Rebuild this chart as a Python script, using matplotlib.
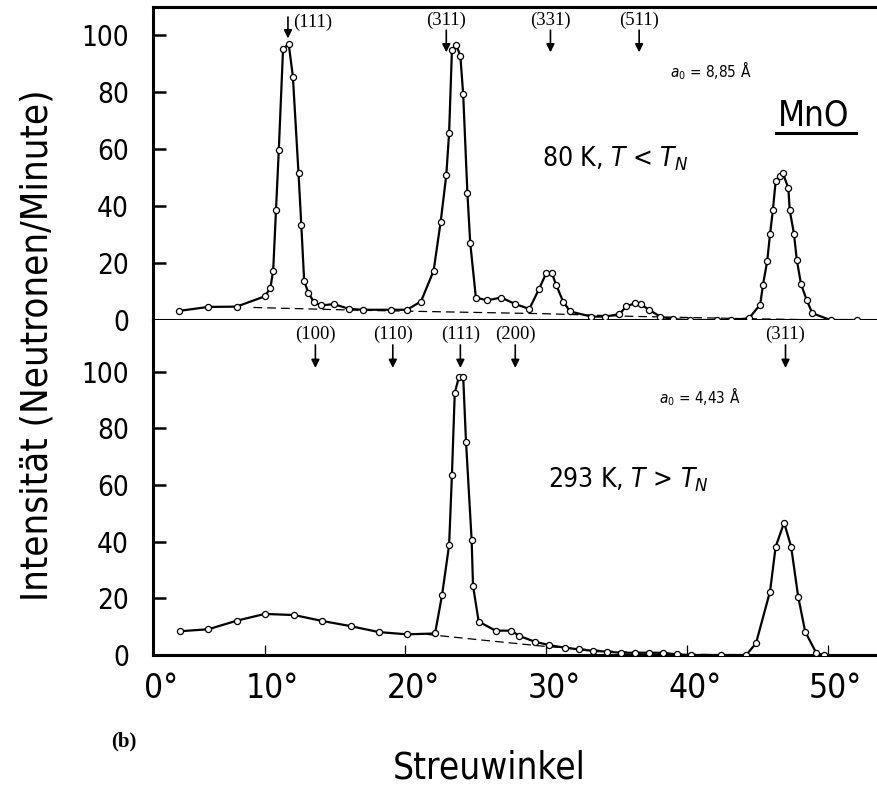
import matplotlib
matplotlib.use("Agg")
import matplotlib.pyplot as plt
import matplotlib.transforms as mtransforms

# Streuwinkel (2 theta, Grad) und Intensitaet (Neutronen/Minute)
# 80 K, T < T_N  (a0 = 8,85 A)
top_x = [3.9, 6.0, 8.0, 10.0, 10.4, 10.6, 10.8, 11.0, 11.3, 11.7, 12.0, 12.4,
         12.6, 12.8, 13.1, 13.5, 14.0, 14.9, 16.0, 17.0, 19.0, 20.1, 21.1, 22.0,
         22.5, 22.9, 23.1, 23.3, 23.6, 23.9, 24.1, 24.4, 24.6, 25.0, 25.8, 26.8,
         27.8, 28.8, 29.5, 30.0, 30.4, 30.7, 31.2, 31.7, 33.2, 34.2, 35.2, 35.7,
         36.3, 36.7, 37.3, 38.1, 39.0, 40.2, 42.1, 43.1, 44.4, 45.2, 45.4, 45.7,
         45.9, 46.1, 46.3, 46.6, 46.8, 47.2, 47.3, 47.6, 47.8, 48.1, 48.5, 48.9,
         50.2, 52.1]
top_y = [3.2, 4.6, 4.7, 8.3, 11.2, 17.3, 38.5, 59.7, 95.0, 97.1, 85.5, 51.6,
         33.3, 13.8, 9.5, 6.3, 5.1, 5.6, 3.9, 3.6, 3.6, 3.6, 6.5, 17.3,
         34.5, 50.9, 65.7, 94.7, 96.7, 92.7, 79.2, 44.5, 27.1, 7.9, 6.9, 7.9,
         5.6, 3.9, 11.0, 16.5, 16.5, 12.4, 6.5, 3.0, 1.2, 1.2, 2.1, 4.8,
         5.9, 5.6, 3.6, 1.2, 0.3, 0.0, 0.0, 0.0, 0.6, 5.4, 12.4, 20.7,
         30.1, 38.5, 48.8, 50.6, 51.8, 46.3, 38.5, 30.3, 21.2, 12.6, 7.1, 2.4,
         0.0, 0.0]
top_base_x = [9.2, 17.0, 30.0, 36.0, 44.0, 50.0]
top_base_y = [4.4, 3.4, 2.2, 1.3, 0.5, 0.0]

# 293 K, T > T_N  (a0 = 4,43 A)
bot_x = [4.0, 6.0, 8.0, 10.0, 12.1, 14.1, 16.1, 18.1, 20.1, 22.1, 22.6, 23.1,
         23.3, 23.5, 23.8, 24.1, 24.3, 24.7, 24.8, 25.2, 26.4, 27.5, 28.1, 29.2,
         30.2, 31.3, 32.3, 33.3, 34.3, 35.3, 36.3, 37.3, 38.3, 39.3, 40.3, 42.4,
         44.2, 44.9, 45.9, 46.3, 46.9, 47.4, 47.9, 48.4, 49.2, 49.7]
bot_y = [8.4, 9.1, 12.1, 14.5, 14.1, 12.0, 10.2, 8.1, 7.3, 7.6, 21.2, 38.8,
         63.5, 92.4, 98.2, 98.2, 75.3, 40.6, 24.4, 11.8, 8.6, 8.6, 6.7, 4.7,
         3.5, 2.6, 2.0, 1.5, 1.2, 0.8, 0.8, 0.8, 0.8, 0.2, 0.0, 0.0,
         0.0, 4.1, 22.4, 38.2, 46.7, 38.2, 20.6, 8.2, 0.6, 0.0]
bot_base_x = [21.5, 25.0, 30.0, 35.0, 40.0, 44.0, 50.0]
bot_base_y = [7.3, 5.5, 3.0, 1.2, 0.3, 0.0, 0.0]

# Reflexe (hkl) und ihre Lage
top_hkl = ["(111)", "(311)", "(331)", "(511)"]
top_hkl_x = [11.65, 22.9, 30.3, 36.6]
bot_hkl = ["(100)", "(110)", "(111)", "(200)", "(311)"]
bot_hkl_x = [13.6, 19.1, 23.9, 27.8, 47.0]

y_ticks = [0, 20, 40, 60, 80, 100]
x_ticks = [2.04, 10, 20, 30, 40, 50]   # linker Achsenrand ist im Original mit 0° beschriftet
x_labels = ["0°", "10°", "20°", "30°", "40°", "50°"]

SERIF = ["Liberation Serif", "DejaVu Serif"]

plt.rcParams.update({
    "font.family": "DejaVu Sans",
    "font.stretch": "condensed",      # schmale Normschrift wie im Original
    "mathtext.fontset": "custom",
    "mathtext.rm": "DejaVu Sans",
    "mathtext.it": "DejaVu Sans:italic",
})

fig = plt.figure(figsize=(8.77, 7.89), dpi=100)
ax_top = fig.add_axes([0.1741, 0.5944, 0.8259, 0.3963])
ax_bot = fig.add_axes([0.1741, 0.1698, 0.8259, 0.4246])

XLIM = (2.04, 53.5)


def style(ax, ymax):
    ax.set_xlim(*XLIM)
    ax.set_ylim(0, ymax)
    ax.spines["right"].set_visible(False)
    for s in ("left", "top", "bottom"):
        ax.spines[s].set_linewidth(2.2)
    ax.set_yticks(y_ticks)
    ax.tick_params(axis="y", direction="in", length=9, width=1.8, pad=17,
                   labelsize=20)


def curve(ax, xs, ys, bx, by):
    ax.plot(bx, by, color="black", lw=0.9, ls=(0, (7, 4)), zorder=2)
    ax.plot(xs, ys, color="black", lw=1.6, marker="o", ms=4.4,
            mfc="white", mec="black", mew=0.9, zorder=3)


def arrows(ax, labels, xs, y_label, y_tail, y_tip):
    for lab, x in zip(labels, xs):
        ax.annotate("", xy=(x, y_tip), xytext=(x, y_tail),
                    arrowprops=dict(arrowstyle="-|>", color="black", lw=1.2,
                                    mutation_scale=12, shrinkA=0, shrinkB=0))
        ax.text(x, y_label, lab, family=SERIF, fontsize=13.5,
                ha="center", va="center")


# ── oben: 80 K ────────────────────────────────────────────────────────────────
style(ax_top, 109.8)
ax_top.set_xticks([])
curve(ax_top, top_x, top_y, top_base_x, top_base_y)
ax_top.annotate("", xy=(top_hkl_x[0], 98.9), xytext=(top_hkl_x[0], 106.4),
                arrowprops=dict(arrowstyle="-|>", color="black", lw=1.2,
                                mutation_scale=12, shrinkA=0, shrinkB=0))
ax_top.text(top_hkl_x[0] + 0.35, 104.6, top_hkl[0], family=SERIF,
            fontsize=13.5, ha="left", va="center")
arrows(ax_top, top_hkl[1:], top_hkl_x[1:], 105.3, 101.8, 94.0)
ax_top.text(38.8, 87.4, r"$a_0$ = 8,85 Å", fontsize=11, va="center")
ax_top.text(29.7, 56.6, r"80 K, $T$ < $T_N$", fontsize=19, va="center")
ax_top.text(49.0, 71.8, "MnO", fontsize=25, ha="center", va="center")
ax_top.plot([46.3, 52.0], [65.8, 65.8], color="black", lw=2.2)

# ── unten: 293 K ──────────────────────────────────────────────────────────────
style(ax_bot, 118.2)
ax_bot.spines["top"].set_visible(False)
curve(ax_bot, bot_x, bot_y, bot_base_x, bot_base_y)
arrows(ax_bot, bot_hkl, bot_hkl_x, 113.0, 109.4, 101.3)
ax_bot.text(38.0, 91.0, r"$a_0$ = 4,43 Å", fontsize=11, va="center")
ax_bot.text(30.1, 62.0, r"293 K, $T$ > $T_N$", fontsize=19, va="center")

ax_bot.set_xticks(x_ticks)
ax_bot.set_xticklabels(x_labels)
ax_bot.tick_params(axis="x", direction="in", length=7, width=0.9, pad=12,
                   labelsize=24)
shift = mtransforms.ScaledTranslation(8 / 100, 0, fig.dpi_scale_trans)
for lab in ax_bot.get_xticklabels():
    lab.set_transform(lab.get_transform() + shift)

fig.text(38 / 877, 1 - 345 / 789, "Intensität (Neutronen/Minute)",
         rotation=90, fontsize=27.5, ha="center", va="center")
fig.text(489 / 877, 1 - 768 / 789, "Streuwinkel", fontsize=26.5,
         ha="center", va="center")
fig.text(124 / 877, 1 - 741 / 789, "(b)", family=SERIF, fontsize=15,
         fontweight="bold", ha="center", va="center")

fig.savefig("out.png", dpi=100)
